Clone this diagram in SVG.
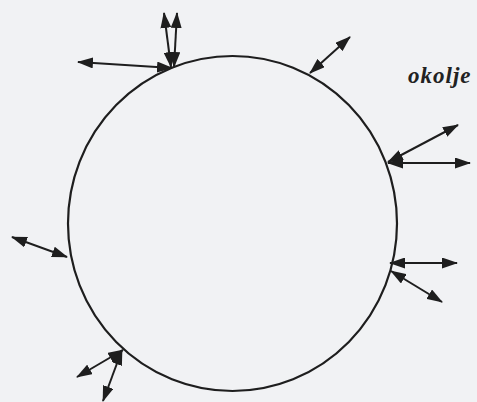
<svg xmlns="http://www.w3.org/2000/svg" width="477" height="402" viewBox="0 0 477 402">
<style>
.bg{fill:#f1f2f4}
.sys{fill:none;stroke:#1e1e1e;stroke-width:2.2}
.ar{stroke:#1e1e1e;stroke-width:2;fill:none;marker-start:url(#h);marker-end:url(#h)}
.lbl{font-family:"Liberation Serif",serif;font-weight:bold;font-style:italic;font-size:23px;fill:#222;letter-spacing:1px}
</style>
<defs>
<marker id="h" viewBox="0 0 16 11" refX="15" refY="5.5" markerWidth="16" markerHeight="11" markerUnits="userSpaceOnUse" orient="auto-start-reverse">
<path d="M0,0 L16,5.5 L0,11 Z" fill="#1e1e1e"/>
</marker>
</defs>
<rect class="bg" x="0" y="0" width="477" height="402"/>
<g id="system">
<ellipse class="sys" cx="232.5" cy="223.5" rx="164.5" ry="167.5"/>
</g>
<g id="label">
<text class="lbl" x="408" y="83">okolje</text>
</g>
<g id="connectors">
<line class="ar" x1="78" y1="62" x2="172" y2="68"/>
<line class="ar" x1="164" y1="13" x2="171" y2="67"/>
<line class="ar" x1="177" y1="13" x2="174" y2="67"/>
<line class="ar" x1="310" y1="73" x2="350" y2="37"/>
<line class="ar" x1="388" y1="162" x2="458" y2="125"/>
<line class="ar" x1="388" y1="163" x2="470" y2="163"/>
<line class="ar" x1="390" y1="263" x2="457" y2="263"/>
<line class="ar" x1="391" y1="271" x2="442" y2="302"/>
<line class="ar" x1="12" y1="237" x2="67" y2="257"/>
<line class="ar" x1="123" y1="350" x2="77" y2="377"/>
<line class="ar" x1="122" y1="350" x2="103" y2="401"/>
</g>
</svg>
